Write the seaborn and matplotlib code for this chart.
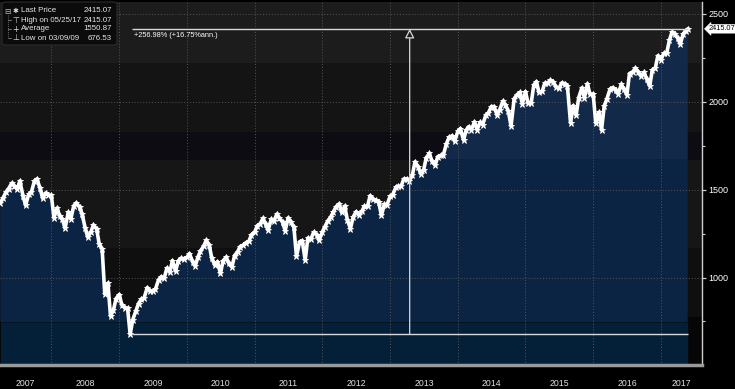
import numpy as np
import pandas as pd
import matplotlib
matplotlib.use("Agg")
import matplotlib.pyplot as plt
import matplotlib.dates as mdates
from matplotlib.patches import FancyBboxPatch
from matplotlib.lines import Line2D
import seaborn as sns

# ---------------- data (semi-monthly readings, 1st & 15th) ----------------
values_2007 = [1424, 1452, 1486, 1505, 1536, 1522, 1503, 1549, 1465, 1411, 1474, 1484,
               1547, 1561, 1508, 1451, 1481, 1468]
values_2008 = [1468, 1340, 1395, 1349, 1331, 1280, 1370, 1334, 1409, 1424, 1400, 1360,
               1284, 1230, 1260, 1298, 1277, 1192, 1161, 907, 968, 780, 816, 880]
values_2009 = [903, 844, 826, 827, 676.53, 760, 811, 852, 877, 883, 942, 923,
               923, 932, 987, 1004, 998, 1053, 1030, 1096, 1036, 1094, 1109, 1107]
values_2010 = [1115, 1136, 1089, 1066, 1115, 1150, 1178, 1211, 1187, 1110, 1070, 1090,
               1023, 1095, 1115, 1080, 1060, 1125, 1146, 1176, 1184, 1198, 1206, 1242]
values_2011 = [1258, 1293, 1307, 1336, 1305, 1270, 1332, 1319, 1361, 1338, 1315, 1267,
               1339, 1316, 1287, 1120, 1204, 1209, 1099, 1224, 1218, 1257, 1244, 1212]
values_2012 = [1258, 1289, 1324, 1343, 1374, 1402, 1419, 1370, 1406, 1330, 1278, 1342,
               1374, 1356, 1376, 1405, 1406, 1465, 1444, 1440, 1427, 1353, 1416, 1413]
values_2013 = [1462, 1472, 1513, 1520, 1518, 1560, 1562, 1552, 1582, 1658, 1631, 1590,
               1614, 1682, 1706, 1661, 1640, 1688, 1695, 1698, 1762, 1798, 1806, 1775]
values_2014 = [1832, 1848, 1782, 1838, 1859, 1841, 1885, 1842, 1883, 1870, 1924, 1937,
               1973, 1973, 1925, 1955, 2003, 1984, 1946, 1862, 2018, 2039, 2053, 1989]
values_2015 = [2058, 1992, 1995, 2096, 2115, 2053, 2059, 2106, 2108, 2122, 2111, 2084,
               2077, 2107, 2104, 2091, 1880, 1978, 1923, 2023, 2079, 2023, 2102, 2043]
values_2016 = [2044, 1880, 1940, 1840, 1978, 2016, 2072, 2081, 2065, 2047, 2099, 2071,
               2040, 2161, 2170, 2190, 2170, 2147, 2168, 2132, 2090, 2180, 2191, 2262]
values_2017 = [2239, 2275, 2279, 2349, 2396, 2385, 2363, 2329, 2388, 2402, 2415.07]

first_date = "2007-04-01"
last_regular_date = "2017-05-15"
last_date = "2017-05-25"

years = list(range(2007, 2018))
y_ticks = [1000, 1500, 2000, 2500]
y_minor_ticks = [750, 1250, 1750, 2250]

stat_labels = ["Last Price", "High on 05/25/17", "Average", "Low on 03/09/09"]
stat_values = ["2415.07", "2415.07", "1550.87", "676.53"]
stat_symbols = ["\u2731", "\u22a4", "+", "\u22a5"]
high_value = 2415.07
low_value = 676.53
low_date = "2009-03-09"
change_label = "+256.98% (+16.75%ann.)"
last_label = "2415.07"

# ---------------- build frame ----------------
values = (values_2007 + values_2008 + values_2009 + values_2010 + values_2011 +
          values_2012 + values_2013 + values_2014 + values_2015 + values_2016 + values_2017)
dates = list(pd.date_range(first_date, last_regular_date, freq="SMS")) + [pd.Timestamp(last_date)]
assert len(dates) == len(values), (len(dates), len(values))
df = pd.DataFrame({"date": dates, "price": values})
xnum = mdates.date2num(df["date"].dt.to_pydatetime())
yval = df["price"].to_numpy(dtype=float)

# ---------------- figure ----------------
sns.set_style("dark")
plt.rcParams["font.family"] = ["Liberation Sans", "DejaVu Sans"]

W, H = 735, 389
fig = plt.figure(figsize=(W / 100, H / 100), dpi=100, facecolor="black")
ax = fig.add_axes([0, 1 - 365 / H, 702 / W, 363 / H])
ax.set_facecolor("#141414")

xmin = mdates.date2num(pd.Timestamp("2007-03-30"))
xmax = mdates.date2num(pd.Timestamp("2017-08-10"))
ymin, ymax = 502, 2568
ax.set_xlim(xmin, xmax)
ax.set_ylim(ymin, ymax)

# background bands
bg_bands = [(2222, 3000, "#1c1c1c"), (1830, 2222, "#141414"), (1670, 1830, "#0c0c12"),
            (1170, 1670, "#161616"), (773, 1170, "#0f0f0f"), (0, 773, "#060606")]
for lo, hi, c in bg_bands:
    ax.axhspan(lo, hi, color=c, lw=0, zorder=0)

# area fill (banded blue)
fill_bands = [(1670, 3000, "#13294a"), (747, 1670, "#0c2444"), (0, 747, "#042039")]
for lo, hi, c in fill_bands:
    ax.fill_between(xnum, lo, np.clip(yval, lo, hi), where=yval > lo, interpolate=True,
                    color=c, lw=0, zorder=1)

# grid lines
for yr in years[1:]:
    ax.axvline(mdates.date2num(pd.Timestamp(f"{yr}-01-01")), color="#555555",
               lw=0.7, ls=(0, (1, 2)), zorder=2)
for yt in y_ticks:
    ax.axhline(yt, color="#555555", lw=0.7, ls=(0, (1, 2)), zorder=2)

# price line
plot_df = pd.DataFrame({"x": xnum, "price": yval})
sns.lineplot(data=plot_df, x="x", y="price", ax=ax, color="white", lw=2.6,
             marker="*", markersize=5, markeredgecolor="white", markeredgewidth=0.6,
             zorder=4, legend=False)

# high / low annotation
x_low = mdates.date2num(pd.Timestamp(low_date))
x_end = mdates.date2num(pd.Timestamp(last_date))
ax.hlines([high_value, low_value], x_low, x_end, color="#d8d8d8", lw=1, zorder=5)
x_mid = (x_low + x_end) / 2
ax.annotate("", xy=(x_mid, high_value), xytext=(x_mid, low_value),
            arrowprops=dict(arrowstyle="-|>,head_length=0.55,head_width=0.28",
                            edgecolor="#d8d8d8", facecolor="#1d1d1d", lw=0.9,
                            shrinkA=0, shrinkB=0), zorder=5)
ax.annotate(change_label, xy=(x_low, high_value), xytext=(1.5, -2.2),
            textcoords="offset points", ha="left", va="top", fontsize=5.3,
            color="white", zorder=6)

# axes styling
for s in ["top", "left"]:
    ax.spines[s].set_visible(False)
ax.spines["right"].set_color("#cfcfcf")
ax.spines["right"].set_linewidth(1)
ax.spines["bottom"].set_color("#9a9a9a")
ax.spines["bottom"].set_linewidth(2.5)

ax.yaxis.tick_right()
ax.set_yticks(y_ticks)
ax.set_yticklabels([str(v) for v in y_ticks])
ax.set_yticks(y_minor_ticks, minor=True)
ax.tick_params(axis="y", which="major", length=3, width=0.9, colors="#cfcfcf",
               labelcolor="white", labelsize=6.5, pad=1.5, direction="out")
ax.tick_params(axis="y", which="minor", length=2, width=0.8, colors="#cfcfcf")
ax.set_ylabel("")
ax.set_xlabel("")

year_starts = [mdates.date2num(pd.Timestamp(f"{yr}-01-01")) for yr in years[1:]]
ax.set_xticks(year_starts)
ax.set_xticklabels([""] * len(year_starts))
quarters = [mdates.date2num(pd.Timestamp(f"{yr}-{m:02d}-01")) for yr in years
            for m in (4, 7, 10)]
quarters = [q for q in quarters if xmin <= q <= xmax]
ax.set_xticks(quarters, minor=True)
ax.tick_params(axis="x", which="major", length=15, width=0.8, colors="#777777",
               direction="out", pad=0)
ax.tick_params(axis="x", which="minor", length=2, width=0.8, colors="#999999",
               direction="out")
ax.grid(False)

# year labels centred in the visible part of each year
trans = ax.get_xaxis_transform()
for yr in years:
    s = max(mdates.date2num(pd.Timestamp(f"{yr}-01-01")), xmin)
    e = min(mdates.date2num(pd.Timestamp(f"{yr + 1}-01-01")), xmax)
    ax.text((s + e) / 2, -18 / 363, str(yr), transform=trans, ha="center", va="center",
            fontsize=6.3, color="#e0e0e0", clip_on=False)

# last price tag
ax.text(1.0 + 7 / 702, high_value, last_label, transform=ax.get_yaxis_transform(),
        ha="left", va="center", fontsize=5.3, color="black", clip_on=False,
        bbox=dict(boxstyle="larrow,pad=0.1", fc="white", ec="white", lw=0.5), zorder=7)

# legend box (top-left)
def fx(px):
    return px / W


def fy(py):
    return 1 - py / H


box = FancyBboxPatch((fx(2), fy(45)), fx(115), 43 / H, transform=fig.transFigure,
                     boxstyle="round,pad=0,rounding_size=0.005", fc="#0b0b0b",
                     ec="#2c2c2c", lw=0.8, zorder=10)
fig.patches.append(box)
row_y = [11, 20, 29, 38]
fig.text(fx(7.5), fy(row_y[0]), "\u229f", fontsize=5.5, color="#bbbbbb",
         ha="center", va="center", family=["DejaVu Sans"], zorder=11)
fig.lines.append(Line2D([fx(8), fx(8)], [fy(15), fy(38)], transform=fig.transFigure,
                        color="#888888", lw=0.6, ls=(0, (1, 1.5)), zorder=11))
for i, (sym, lab, val) in enumerate(zip(stat_symbols, stat_labels, stat_values)):
    yy = fy(row_y[i])
    if i > 0:
        fig.lines.append(Line2D([fx(8), fx(11)], [yy, yy], transform=fig.transFigure,
                                color="#888888", lw=0.6, zorder=11))
    fig.text(fx(15.5), yy, sym, fontsize=5.0 if i == 0 else 5.8, color="#dddddd",
             ha="center", va="center", family=["DejaVu Sans"], zorder=11)
    fig.text(fx(21), yy, lab, fontsize=5.7, color="#e6e6e6", ha="left", va="center",
             zorder=11)
    fig.text(fx(112), yy, val, fontsize=5.7, color="#e6e6e6", ha="right", va="center",
             zorder=11)

fig.savefig("out.png", dpi=100, facecolor="black")
